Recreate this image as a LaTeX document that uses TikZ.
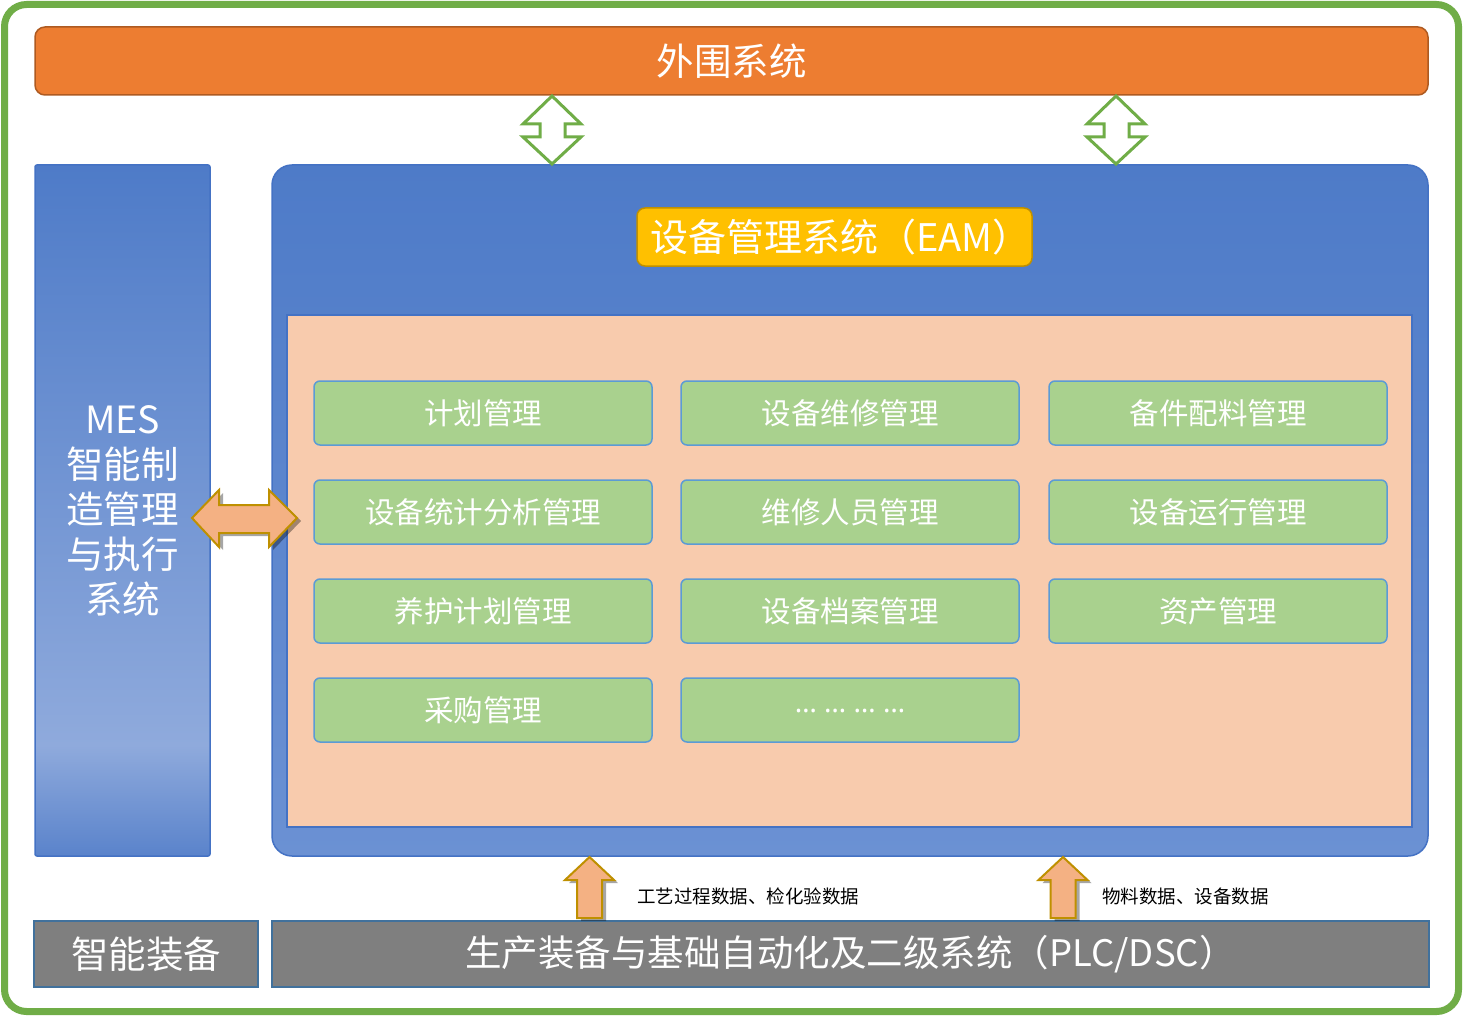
\documentclass[tikz,border=0pt]{standalone}
\usepackage{fontspec}
\setmainfont{Noto Sans CJK SC}
\newfontfamily\latinf{Noto Sans}
\usetikzlibrary{shadows}
\definecolor{frameGreen}{HTML}{70AD47}
\definecolor{topOrange}{HTML}{ED7D31}
\definecolor{topOrangeD}{HTML}{AE5A21}
\definecolor{blueA}{HTML}{4E7BC8}
\definecolor{blueB}{HTML}{6B91D3}
\definecolor{blueL}{HTML}{8FAADC}
\definecolor{blueM}{HTML}{5A83CB}
\definecolor{blueEdge}{HTML}{4472C4}
\definecolor{peach}{HTML}{F8CBAD}
\definecolor{eamYellow}{HTML}{FFC000}
\definecolor{eamEdge}{HTML}{BF9000}
\definecolor{modGreen}{HTML}{A9D18E}
\definecolor{modEdge}{HTML}{5B9BD5}
\definecolor{arrowFill}{HTML}{F4B183}
\definecolor{greyBox}{HTML}{7F7F7F}
\definecolor{greyEdge}{HTML}{41719C}
\pgfdeclareverticalshading{messhade}{100bp}{color(0bp)=(blueM); color(25bp)=(blueM); color(33bp)=(blueL); color(75bp)=(blueA); color(100bp)=(blueA)}
\tikzset{
  modbox/.style={draw=modEdge, line width=1.5pt, fill=modGreen, rounded corners=6pt,
    minimum width=338pt, minimum height=64pt, inner sep=0pt, text=white,
    font=\fontsize{29.5}{31}\selectfont},
  greybox/.style={draw=greyEdge, line width=1.5pt, fill=greyBox, inner sep=0pt,
    text=white, minimum height=66pt, font=\fontsize{37.5}{40}\selectfont},
  dblarrow/.style={draw=frameGreen, line width=3pt, fill=white, line join=miter},
  fatarrow/.style={draw=eamEdge, line width=2pt, fill=arrowFill,
    drop shadow={shadow xshift=4pt, shadow yshift=-3pt, opacity=0.35, fill=black}},
  lbl/.style={font=\fontsize{18.5}{20}\selectfont, text=black, inner sep=0pt, anchor=west}
}
\begin{document}
\begin{tikzpicture}[x=1pt,y=-1pt]
\useasboundingbox (0,0) rectangle (1463,1016);
\fill[white] (0,0) rectangle (1463,1016);
% outer frame
\draw[frameGreen, line width=7pt, rounded corners=22pt] (4.5,4.5) rectangle (1458.5,1011.5);

% top bar
\node[draw=topOrangeD, line width=1.5pt, fill=topOrange, rounded corners=10pt,
  minimum width=1393pt, minimum height=68pt, inner sep=0pt, text=white,
  font=\fontsize{37.5}{40}\selectfont] (top) at (731.5,61) {外围系统};

% MES box
\node[draw=blueEdge, line width=1.5pt, shading=messhade,
  rounded corners=2pt, minimum width=175pt, minimum height=691pt, inner sep=0pt] (mes) at (122.5,510.5) {};
\node[text=white, align=center, font=\fontsize{37.5}{45}\selectfont, inner sep=0pt] (mestext) at (122.5,511)
  {MES\\智能制\\造管理\\与执行\\系统};

% main blue box
\node[draw=blueEdge, line width=1.5pt, top color=blueA, bottom color=blueB,
  rounded corners=20pt, minimum width=1156pt, minimum height=691pt, inner sep=0pt] (eambox) at (850,510.5) {};
% EAM label
\node[draw=eamEdge, line width=1.5pt, fill=eamYellow, rounded corners=8pt,
  minimum width=395pt, minimum height=58pt, inner sep=0pt, text=white,
  font=\fontsize{38}{40}\selectfont] (eam) at (834.5,237) {\hspace*{10pt}设备管理系统（EAM）\hspace*{-2pt}};
% inner peach area
\node[draw=blueEdge, line width=2pt, fill=peach, minimum width=1125pt, minimum height=512pt,
  inner sep=0pt] (inner) at (849.5,571) {};

% modules
\node[modbox] (m11) at (483,413) {计划管理};
\node[modbox] (m12) at (850,413) {设备维修管理};
\node[modbox] (m13) at (1218,413) {备件配料管理};
\node[modbox] (m21) at (483,512) {设备统计分析管理};
\node[modbox] (m22) at (850,512) {维修人员管理};
\node[modbox] (m23) at (1218,512) {设备运行管理};
\node[modbox] (m31) at (483,611) {养护计划管理};
\node[modbox] (m32) at (850,611) {设备档案管理};
\node[modbox] (m33) at (1218,611) {资产管理};
\node[modbox] (m41) at (483,710) {采购管理};
\node[modbox, font=\latinf\fontsize{28}{30}\selectfont] (m42) at (850,710) {\raisebox{-5pt}{… … … …}};

% bottom grey boxes
\node[greybox, minimum width=224pt] (smart) at (146,954) {智能装备};
\node[greybox, minimum width=1157pt, font=\fontsize{36.5}{40}\selectfont] (prod) at (850.5,954) {生产装备与基础自动化及二级系统（PLC/DSC）};

% vertical double arrows between top bar and EAM box
\foreach \cx/\nm in {552/da1, 1116/da2}{
  \draw[dblarrow] (\cx,96) -- (\cx+29,124) -- (\cx+13,124) -- (\cx+13,137) -- (\cx+29,137)
    -- (\cx,164) -- (\cx-29,137) -- (\cx-12,137) -- (\cx-12,124) -- (\cx-29,124) -- cycle;
}

% horizontal double arrow MES <-> EAM
\draw[fatarrow] (192,518) -- (219,490) -- (219,505) -- (269,505) -- (269,490) -- (297,518)
  -- (269,547) -- (269,533) -- (219,533) -- (219,547) -- cycle;

% upward arrows
\foreach \cx in {589.5, 1063}{
  \draw[fatarrow] (\cx,857) -- (\cx+24.5,880) -- (\cx+12.5,880) -- (\cx+12.5,918)
    -- (\cx-12.5,918) -- (\cx-12.5,880) -- (\cx-24.5,880) -- cycle;
}

% labels
\node[lbl] (lab1) at (637,896) {工艺过程数据、检化验数据};
\node[lbl] (lab2) at (1102,896) {物料数据、设备数据};
\end{tikzpicture}
\end{document}
